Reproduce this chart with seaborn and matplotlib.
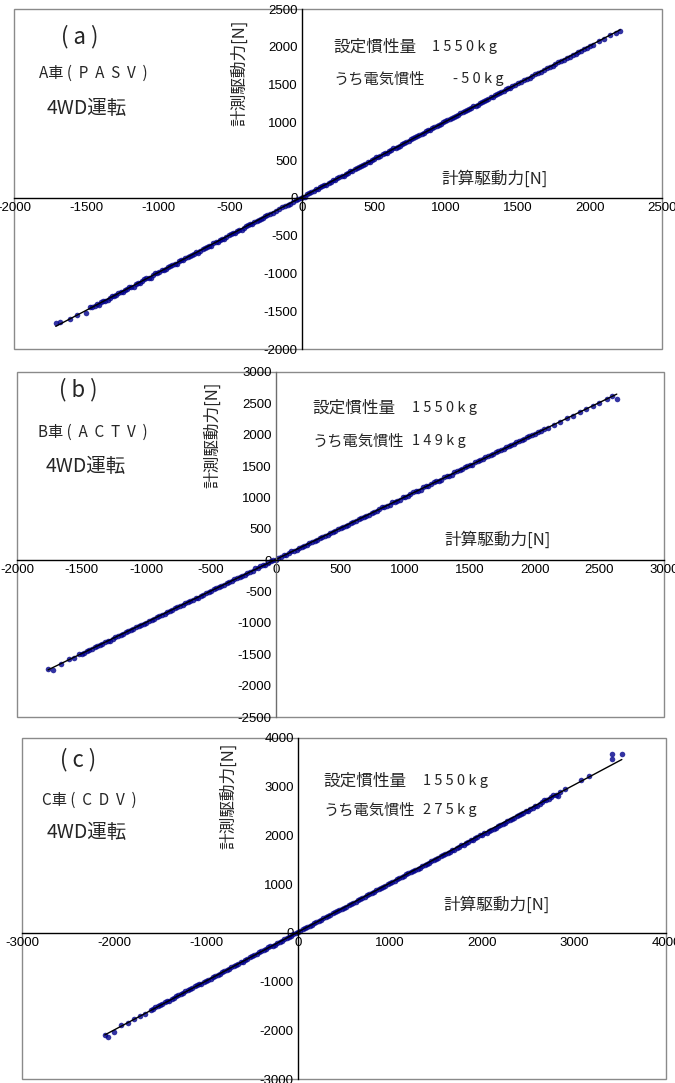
import matplotlib
matplotlib.use("Agg")
import matplotlib.pyplot as plt
from matplotlib.patches import Rectangle
import numpy as np
import seaborn as sns

# ---- Panel (a): A車 (PASV) ----
calc_a = [-1710, -1680, -1610, -1560, -1500, -1470, -1440, -1410, -1380, -1350,
          -1320, -1290, -1260, -1230, -1200, -1170, -1140, -1110, -1080, -1050,
          -1020, -990, -960, -930, -900, -870, -840, -810, -780, -750,
          -720, -690, -660, -630, -600, -570, -540, -510, -480, -450,
          -420, -390, -360, -330, -300, -270, -240, -200, -160, -120,
          -80, -40, -10, 20, 50, 80, 110, 140, 170, 200,
          230, 260, 290, 320, 350, 380, 410, 440, 470, 500,
          530, 560, 590, 620, 650, 680, 710, 740, 770, 800,
          830, 860, 890, 920, 950, 980, 1010, 1040, 1070, 1100,
          1130, 1160, 1190, 1220, 1250, 1280, 1310, 1340, 1370, 1400,
          1430, 1460, 1500, 1540, 1580, 1620, 1660, 1700, 1740, 1780,
          1820, 1860, 1900, 1940, 1980, 2020, 2060, 2100, 2140, 2180,
          2210,
          -1455, -1425, -1395, -1365, -1335, -1305, -1275, -1245, -1215, -1185,
          -1155, -1125, -1095, -1065, -1035, -1005, -975, -945, -915, -885,
          -855, -825, -795, -765, -735, -705, -675, -645, -615, -585,
          -555, -525, -495, -465, -435, -405, -375, -345, -315, -285,
          -255, -220, -180, -140, -100, -60, -25, 5, 35, 65,
          95, 125, 155, 185, 215, 245, 275, 305, 335, 365,
          395, 425, 455, 485, 515, 545, 575, 605, 635, 665,
          695, 725, 755, 785, 815, 845, 875, 905, 935, 965,
          995, 1025, 1055, 1085, 1115, 1145, 1175, 1205, 1235, 1265,
          1295, 1325, 1355, 1385, 1415, 1445, 1480, 1520, 1560, 1600,
          1640, 1680, 1720, 1760, 1800, 1840, 1880, 1920, 1960, 2000]
meas_a = [-1660, -1640, -1600, -1545, -1520, -1450, -1425, -1420, -1360, -1345,
          -1300, -1285, -1245, -1225, -1185, -1175, -1120, -1105, -1065, -1060,
          -1000, -985, -955, -910, -890, -880, -825, -800, -770, -740,
          -725, -670, -650, -640, -585, -560, -545, -495, -470, -440,
          -430, -370, -350, -320, -290, -265, -230, -195, -150, -110,
          -85, -25, 5, 15, 60, 95, 120, 160, 175, 215,
          240, 275, 295, 335, 360, 395, 420, 455, 480, 520,
          540, 575, 600, 640, 665, 690, 725, 755, 790, 815,
          845, 880, 905, 940, 965, 1000, 1025, 1060, 1080, 1120,
          1145, 1175, 1210, 1230, 1270, 1295, 1330, 1360, 1385, 1420,
          1450, 1475, 1515, 1560, 1590, 1640, 1670, 1715, 1750, 1795,
          1830, 1870, 1910, 1950, 1990, 2030, 2070, 2105, 2150, 2185,
          2205,
          -1445, -1400, -1380, -1360, -1320, -1300, -1260, -1240, -1200, -1180,
          -1140, -1120, -1080, -1060, -1020, -1000, -960, -940, -900, -880,
          -840, -820, -780, -760, -720, -700, -660, -640, -600, -580,
          -540, -520, -480, -460, -420, -400, -360, -340, -300, -280,
          -245, -210, -170, -125, -90, -50, -10, 15, 50, 80,
          115, 140, 175, 200, 235, 260, 295, 320, 355, 380,
          415, 440, 475, 500, 535, 560, 595, 620, 655, 680,
          715, 740, 775, 800, 835, 860, 895, 920, 955, 980,
          1015, 1040, 1075, 1100, 1135, 1160, 1195, 1220, 1255, 1280,
          1315, 1340, 1375, 1400, 1435, 1460, 1495, 1535, 1575, 1615,
          1655, 1690, 1735, 1770, 1815, 1850, 1895, 1930, 1975, 2010]

# ---- Panel (b): B車 (ACTV) ----
calc_b = [-1760, -1720, -1660, -1600, -1560, -1520, -1480, -1440, -1400, -1360,
          -1320, -1280, -1240, -1200, -1160, -1120, -1080, -1040, -1000, -960,
          -920, -880, -840, -800, -760, -720, -680, -640, -600, -560,
          -520, -480, -440, -400, -360, -320, -280, -240, -200, -160,
          -120, -80, -40, 0, 40, 80, 120, 160, 200, 240,
          280, 320, 360, 400, 440, 480, 520, 560, 600, 640,
          680, 720, 760, 800, 840, 880, 920, 960, 1000, 1040,
          1080, 1120, 1160, 1200, 1240, 1280, 1320, 1360, 1400, 1440,
          1480, 1520, 1560, 1600, 1640, 1680, 1720, 1760, 1800, 1840,
          1880, 1920, 1960, 2000, 2050, 2100, 2150, 2200, 2250, 2300,
          2350, 2400, 2450, 2500, 2560, 2600, 2635,
          -1500, -1460, -1420, -1380, -1340, -1300, -1260, -1220, -1180, -1140,
          -1100, -1060, -1020, -980, -940, -900, -860, -820, -780, -740,
          -700, -660, -620, -580, -540, -500, -460, -420, -380, -340,
          -300, -260, -220, -180, -140, -100, -60, -20, 20, 60,
          100, 140, 180, 220, 260, 300, 340, 380, 420, 460,
          500, 540, 580, 620, 660, 700, 740, 780, 820, 860,
          900, 940, 980, 1020, 1060, 1100, 1140, 1180, 1220, 1260,
          1300, 1340, 1380, 1420, 1460, 1500, 1540, 1580, 1620, 1660,
          1700, 1740, 1780, 1820, 1860, 1900, 1940, 1980, 2025, 2075]
meas_b = [-1740, -1750, -1650, -1580, -1555, -1500, -1475, -1430, -1385, -1355,
          -1300, -1285, -1225, -1195, -1145, -1115, -1070, -1030, -995, -950,
          -910, -875, -825, -795, -750, -715, -670, -630, -595, -550,
          -515, -465, -435, -390, -355, -305, -275, -230, -195, -120,
          -100, -70, -20, 10, 55, 85, 140, 170, 215, 250,
          295, 325, 375, 405, 455, 490, 535, 565, 615, 650,
          695, 725, 775, 810, 855, 885, 935, 965, 1015, 1050,
          1095, 1125, 1175, 1210, 1255, 1285, 1335, 1365, 1415, 1450,
          1495, 1525, 1575, 1610, 1655, 1685, 1735, 1770, 1815, 1850,
          1895, 1930, 1975, 2010, 2065, 2110, 2160, 2210, 2265, 2305,
          2365, 2410, 2460, 2510, 2570, 2620, 2570,
          -1490, -1445, -1410, -1365, -1330, -1285, -1250, -1205, -1170, -1125,
          -1090, -1045, -1010, -965, -930, -885, -850, -805, -770, -725,
          -690, -645, -610, -565, -530, -485, -450, -405, -370, -325,
          -290, -245, -210, -165, -130, -80, -50, 0, 40, 75,
          120, 150, 200, 230, 280, 310, 360, 390, 440, 470,
          520, 550, 600, 630, 680, 710, 760, 790, 840, 870,
          920, 950, 1000, 1030, 1080, 1110, 1160, 1190, 1240, 1270,
          1320, 1350, 1400, 1430, 1480, 1510, 1560, 1590, 1640, 1670,
          1720, 1750, 1800, 1830, 1880, 1910, 1960, 1990, 2045, 2085]

# ---- Panel (c): C車 (CDV) ----
calc_c = [-2100, -2070, -2000, -1920, -1850, -1780, -1720, -1660, -1600, -1550,
          -1500, -1450, -1400, -1350, -1300, -1250, -1200, -1150, -1100, -1050,
          -1000, -950, -900, -850, -800, -750, -700, -650, -600, -550,
          -500, -450, -400, -350, -300, -250, -200, -150, -100, -50,
          0, 50, 100, 150, 200, 250, 300, 350, 400, 450,
          500, 550, 600, 650, 700, 750, 800, 850, 900, 950,
          1000, 1050, 1100, 1150, 1200, 1250, 1300, 1350, 1400, 1450,
          1500, 1550, 1600, 1650, 1700, 1750, 1800, 1850, 1900, 1950,
          2000, 2050, 2100, 2150, 2200, 2250, 2300, 2350, 2400, 2450,
          2500, 2550, 2600, 2650, 2700, 2750, 2800, 2850, 3080, 3160,
          3410, 3410, 3520,
          -1575, -1525, -1475, -1425, -1375, -1325, -1275, -1225, -1175, -1125,
          -1075, -1025, -975, -925, -875, -825, -775, -725, -675, -625,
          -575, -525, -475, -425, -375, -325, -275, -225, -175, -125,
          -75, -25, 25, 75, 125, 175, 225, 275, 325, 375,
          425, 475, 525, 575, 625, 675, 725, 775, 825, 875,
          925, 975, 1025, 1075, 1125, 1175, 1225, 1275, 1325, 1375,
          1425, 1475, 1525, 1575, 1625, 1675, 1725, 1775, 1825, 1875,
          1925, 1975, 2025, 2075, 2125, 2175, 2225, 2275, 2325, 2375,
          2425, 2475, 2525, 2575, 2625, 2675, 2725, 2775, 2825, 2900]
meas_c = [-2090, -2130, -2030, -1900, -1860, -1760, -1700, -1660, -1580, -1520,
          -1490, -1420, -1390, -1330, -1280, -1240, -1180, -1140, -1080, -1040,
          -980, -940, -880, -840, -780, -740, -680, -640, -590, -540,
          -480, -440, -380, -340, -280, -240, -180, -130, -90, -30,
          10, 70, 120, 170, 220, 270, 320, 370, 420, 470,
          520, 570, 620, 670, 720, 770, 820, 870, 920, 970,
          1020, 1070, 1120, 1170, 1220, 1270, 1320, 1370, 1420, 1470,
          1520, 1570, 1610, 1660, 1710, 1760, 1810, 1860, 1910, 1960,
          2010, 2060, 2110, 2160, 2210, 2260, 2310, 2360, 2410, 2460,
          2510, 2560, 2610, 2680, 2730, 2780, 2830, 2900, 3140, 3220,
          3570, 3680, 3680,
          -1560, -1505, -1460, -1400, -1360, -1300, -1260, -1200, -1160, -1100,
          -1060, -1000, -960, -900, -860, -800, -760, -700, -660, -600,
          -560, -500, -460, -400, -360, -300, -260, -200, -160, -100,
          -60, 0, 40, 100, 140, 200, 240, 300, 340, 400,
          440, 500, 540, 600, 640, 700, 740, 800, 840, 900,
          940, 1000, 1040, 1100, 1140, 1200, 1240, 1300, 1340, 1400,
          1440, 1500, 1540, 1600, 1640, 1700, 1740, 1800, 1840, 1900,
          1940, 2000, 2040, 2100, 2140, 2200, 2240, 2300, 2340, 2400,
          2440, 2500, 2540, 2600, 2640, 2720, 2740, 2840, 2800, 2960]

panel_tags = ["( a )", "( b )", "( c )"]
vehicles = ["A車 (  P  A  S  V  )", "B車 (  A  C  T  V  )", "C車 (  C  D  V  )"]
drive_mode = "4WD運転"
inertia_label = "設定慣性量"
inertia_value = "1 5 5 0 k g"
elec_label = "うち電気慣性"
elec_values = ["- 5 0 k g", "1 4 9 k g", "2 7 5 k g"]
y_title = "計測駆動力[N]"
x_title = "計算駆動力[N]"

x_ranges = [(-2000, 2500, 500), (-2000, 3000, 500), (-3000, 4000, 1000)]
y_ranges = [(-2000, 2500, 500), (-2500, 3000, 500), (-3000, 4000, 1000)]

sns.set_theme(style="white")
plt.rcParams["font.family"] = ["Liberation Sans", "Noto Sans CJK JP"]
plt.rcParams["axes.unicode_minus"] = False

W, H = 675, 1083
fig = plt.figure(figsize=(W / 100, H / 100), dpi=100)

CJK = ["Noto Sans CJK JP", "DejaVu Sans"]


def fx(px):
    return px / W


def fy(py):
    return 1 - py / H


# axes boxes in pixels: left, top, right, bottom
boxes = [(14, 9, 662, 349), (17, 372, 664, 717), (22, 738, 666, 1079)]

# text placement in pixels for each panel
layout = [
    dict(tag=(80, 37), veh=(39, 73), mode=(47, 108), ylab=(240, 73),
         set1=(333, 47), val1=(432, 47), set2=(333, 79), val2=(453, 79),
         xlab=(495, 179)),
    dict(tag=(78, 390), veh=(38, 432), mode=(46, 467), ylab=(213, 435),
         set1=(312, 408), val1=(412, 408), set2=(312, 441), val2=(412, 441),
         xlab=(498, 540)),
    dict(tag=(78, 760), veh=(42, 800), mode=(47, 833), ylab=(229, 796),
         set1=(323, 781), val1=(423, 781), set2=(323, 810), val2=(423, 810),
         xlab=(497, 905)),
]

data = [(calc_a, meas_a), (calc_b, meas_b), (calc_c, meas_c)]

for i, ((l, t, r, b), (xs, ys)) in enumerate(zip(boxes, data)):
    ax = fig.add_axes([fx(l), fy(b), (r - l) / W, (b - t) / H])
    sns.regplot(x=np.array(xs), y=np.array(ys), ax=ax, ci=None, truncate=True,
                scatter_kws=dict(s=16, marker="s", color="#00008b", linewidths=0),
                line_kws=dict(color="black", lw=1.0))
    x0, x1, xs_ = x_ranges[i]
    y0, y1, ys_ = y_ranges[i]
    ax.set_xlim(x0, x1)
    ax.set_ylim(y0, y1)
    ax.set_xticks(np.arange(x0, x1 + 1, xs_))
    ax.set_yticks(np.arange(y0, y1 + 1, ys_))
    ax.set_xlabel("")
    ax.set_ylabel("")
    for side in ("top", "right"):
        ax.spines[side].set_visible(False)
    ax.spines["left"].set_position("zero")
    ax.spines["bottom"].set_position("zero")
    ax.spines["left"].set_color("black" if i != 1 else "#6e6e6e")
    ax.spines["bottom"].set_color("black")
    ax.spines["left"].set_linewidth(1.0)
    ax.spines["bottom"].set_linewidth(1.0)
    ax.tick_params(axis="both", direction="in", length=4, width=0.8,
                   labelsize=9.5, pad=3, colors="black")
    ax.patch.set_alpha(0)
    ax.add_patch(Rectangle((0, 0), 1, 1, transform=ax.transAxes, fill=False,
                           edgecolor="#8a8a8a", lw=1.0, clip_on=False, zorder=0))

    L = layout[i]
    fig.text(fx(L["tag"][0]), fy(L["tag"][1]), panel_tags[i], family=CJK,
             fontsize=16, ha="center", va="center")
    fig.text(fx(L["veh"][0]), fy(L["veh"][1]), vehicles[i], family=CJK,
             fontsize=11, ha="left", va="center")
    fig.text(fx(L["mode"][0]), fy(L["mode"][1]), drive_mode, family=CJK,
             fontsize=14, ha="left", va="center")
    fig.text(fx(L["ylab"][0]), fy(L["ylab"][1]), y_title, family=CJK,
             fontsize=12, ha="center", va="center", rotation=90)
    fig.text(fx(L["xlab"][0]), fy(L["xlab"][1]), x_title, family=CJK,
             fontsize=12, ha="center", va="center")
    fig.text(fx(L["set1"][0]), fy(L["set1"][1]), inertia_label, family=CJK,
             fontsize=12, ha="left", va="center")
    fig.text(fx(L["val1"][0]), fy(L["val1"][1]), inertia_value, family=CJK,
             fontsize=10.5, ha="left", va="center")
    fig.text(fx(L["set2"][0]), fy(L["set2"][1]), elec_label, family=CJK,
             fontsize=11, ha="left", va="center")
    fig.text(fx(L["val2"][0]), fy(L["val2"][1]), elec_values[i], family=CJK,
             fontsize=10.5, ha="left", va="center")

fig.savefig("out.png", dpi=100)
